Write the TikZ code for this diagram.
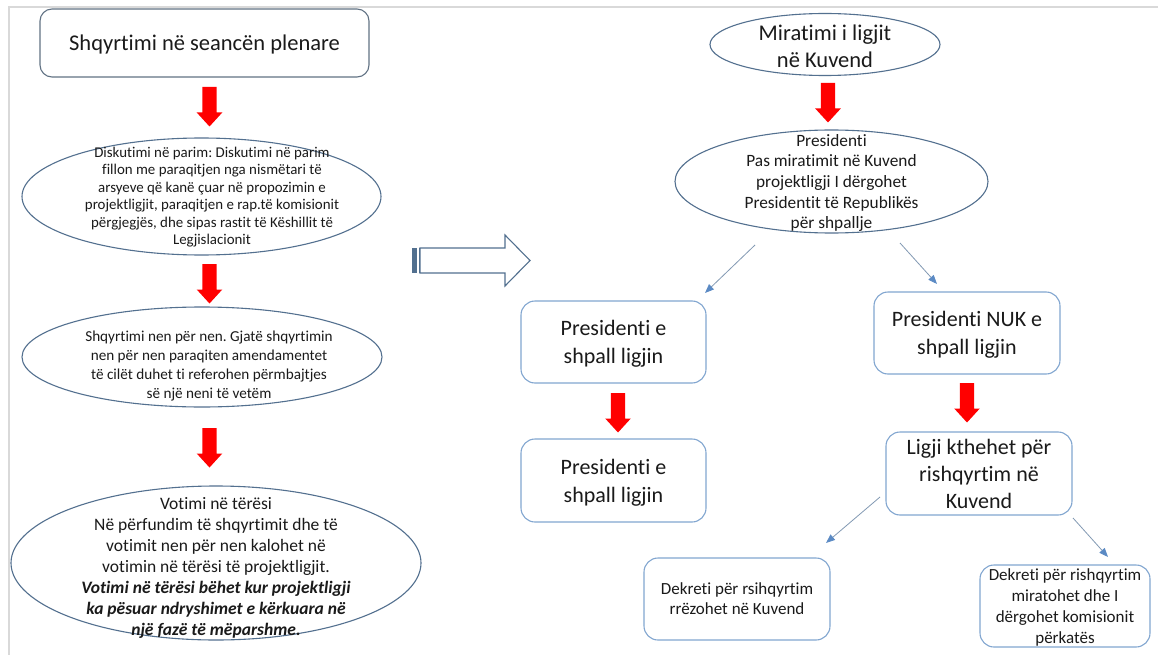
\documentclass[tikz,border=0pt]{standalone}
\usepackage{fontspec}
\setmainfont{Carlito}[Ligatures={NoCommon}]
\frenchspacing
\usetikzlibrary{shapes.geometric,arrows.meta,calc}
\definecolor{ellc}{HTML}{53708F}
\definecolor{topc}{HTML}{617284}
\definecolor{boxc}{HTML}{82A6D0}
\definecolor{thinc}{HTML}{8299B3}
\definecolor{tipc}{HTML}{5B8AC4}
\definecolor{txtc}{HTML}{1A1A1A}
\definecolor{framec}{HTML}{D9D9D9}
\definecolor{arrc}{HTML}{52708F}
\begin{document}
\begin{tikzpicture}[x=1pt,y=-1pt,
  ell/.style={ellipse, draw=ellc, line width=1.1pt, inner sep=0pt, fill=white},
  txt/.style={align=center, text=txtc, inner sep=0pt},
  rbox/.style={rounded corners=14pt, draw=boxc, line width=1.1pt, fill=white, align=center, text=txtc, inner sep=0pt, text depth=0pt},
  thinarr/.style={draw=thinc, line width=0.8pt, -{Triangle[length=9pt,width=7pt,color=tipc,fill=tipc]}},
  redarrow/.pic={\fill[red] (-7.2,0) -- (7.2,0) -- (7.2,25.5) -- (12.8,25.5) -- (0,39.5) -- (-12.8,25.5) -- (-7.2,25.5) -- cycle;}
]
\useasboundingbox (0,0) rectangle (1158,655);
\fill[white] (0,0) rectangle (1158,655);
\draw[framec, line width=1.5pt] (9,655) -- (9,7) -- (1158,7);

% left column
\node[rbox, draw=topc, rounded corners=12pt, minimum width=329pt, minimum height=68pt,
  font=\fontsize{22.5}{27}\selectfont] (plen) at (204.5,43) {Shqyrtimi në seancën plenare};
\pic (ra1) at (209.5,87) {redarrow};

\node[ell, minimum width=359pt, minimum height=117pt] (d1) at (201.5,196.5) {};
\node[txt, font=\fontsize{14.9}{17.5}\selectfont] (d1t) at (212,197) {Diskutimi në parim: Diskutimi në parim\\
fillon me paraqitjen nga nismëtari të\\
arsyeve që kanë çuar në propozimin e\\
projektligjit, paraqitjen e rap.të komisionit\\
përgjegjës, dhe sipas rastit të Këshillit të\\
Legjislacionit};
\pic (ra2) at (209.5,264) {redarrow};

\node[ell, minimum width=360pt, minimum height=100pt] (d2) at (202,357) {};
\node[txt, font=\fontsize{15.2}{18.7}\selectfont] (d2t) at (209,366) {Shqyrtimi nen për nen. Gjatë shqyrtimin\\
nen për nen paraqiten amendamentet\\
të cilët duhet ti referohen përmbajtjes\\
së një neni të vetëm};
\pic (ra3) at (209.5,428) {redarrow};

\node[ell, minimum width=410pt, minimum height=154pt] (d3) at (216,563) {};
\node[txt, font=\fontsize{17.5}{21}\selectfont] (d3t) at (216,568) {Votimi në tërësi\\
Në përfundim të shqyrtimit dhe të\\
votimit nen për nen kalohet në\\
votimin në tërësi të projektligjit.\\
\textbf{\textit{Votimi në tërësi bëhet kur projektligji}}\\
\textbf{\textit{ka pësuar ndryshimet e kërkuara në}}\\
\textbf{\textit{një fazë të mëparshme.}}};

% hollow arrow
\draw[arrc, line width=1.1pt, fill=white, line join=miter] (420,248) -- (505,248) -- (505,235) -- (530,260.5) -- (505,286) -- (505,273) -- (420,273) -- cycle;
\fill[arrc] (412,248) rectangle (417,273);
\draw[arrc, line width=1pt] (419,248) -- (419,273);

% right column
\node[ell, minimum width=230pt, minimum height=62pt] (mir) at (825,44.5) {};
\node[txt, font=\fontsize{22.5}{27}\selectfont] (mirt) at (825,46.5) {Miratimi i ligjit\\në Kuvend};
\pic (ra4) at (828,83) {redarrow};

\node[ell, minimum width=313pt, minimum height=103pt] (pres) at (831.5,181.5) {};
\node[txt, font=\fontsize{17.3}{20.7}\selectfont] (prest) at (831.5,183) {Presidenti\\
Pas miratimit në Kuvend\\
projektligji I dërgohet\\
Presidentit të Republikës\\
për shpallje};

\node[rbox, minimum width=185pt, minimum height=82pt, font=\fontsize{22}{28}\selectfont] (b1) at (613.5,342) {Presidenti e\\shpall ligjin};
\pic (ra5) at (618,393) {redarrow};
\node[rbox, minimum width=185pt, minimum height=83pt, font=\fontsize{22}{28}\selectfont] (b2) at (613.5,480.5) {Presidenti e\\shpall ligjin};

\node[rbox, minimum width=186pt, minimum height=82pt, font=\fontsize{22}{28}\selectfont] (b3) at (967,333) {Presidenti NUK e\\shpall ligjin};
\pic (ra6) at (967,383) {redarrow};
\node[rbox, minimum width=186pt, minimum height=83pt, font=\fontsize{22}{27}\selectfont] (b4) at (979,473.5) {Ligji kthehet për\\rishqyrtim në\\Kuvend};

\node[rbox, minimum width=186pt, minimum height=82pt, font=\fontsize{17}{20}\selectfont] (b5) at (737,599) {Dekreti për rsihqyrtim\\rrëzohet në Kuvend};
\node[rbox, minimum width=170pt, minimum height=82pt, font=\fontsize{17}{21}\selectfont] (b6) at (1065,606) {Dekreti për rishqyrtim\\miratohet dhe I\\dërgohet komisionit\\përkatës};

% thin arrows
\coordinate (a1s) at (755,245); \coordinate (a1e) at (705,293);
\coordinate (a2s) at (900,243); \coordinate (a2e) at (937,284);
\coordinate (a3s) at (880,497); \coordinate (a3e) at (826,543);
\coordinate (a4s) at (1073,518); \coordinate (a4e) at (1108,557);
\draw[thinarr] (a1s) -- (a1e);
\draw[thinarr] (a2s) -- (a2e);
\draw[thinarr] (a3s) -- (a3e);
\draw[thinarr] (a4s) -- (a4e);
\end{tikzpicture}
\end{document}
